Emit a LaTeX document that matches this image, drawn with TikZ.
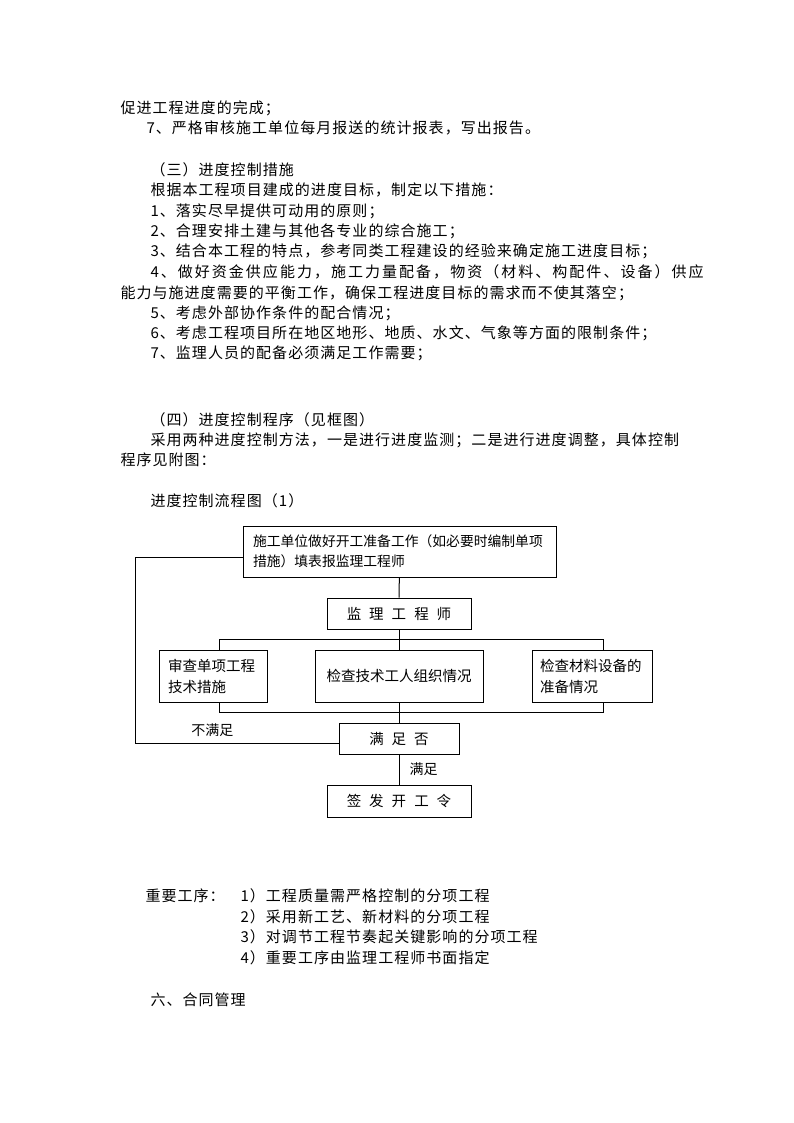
\documentclass[tikz,border=0pt]{standalone}
\usepackage{fontspec}
\setmainfont{Noto Sans CJK SC}
\newfontfamily\bodyfont[LetterSpace=7]{Noto Sans CJK SC}
\newfontfamily\widefont[LetterSpace=13.5]{Noto Sans CJK SC}
\newcommand{\kg}{\hspace{8pt}}

\begin{document}
\begin{tikzpicture}[x=1pt, y=-1pt, line width=1pt,
    txt/.style={anchor=west, inner sep=0pt, font=\bodyfont\fontsize{15}{20}\selectfont, text height=13.2pt, text depth=1.8pt},
    widetxt/.style={txt, font=\widefont\fontsize{15}{20}\selectfont},
    box/.style={draw, inner sep=0pt, font=\fontsize{14.5}{21}\selectfont},
    lbl/.style={inner sep=2pt, font=\fontsize{14}{16}\selectfont, text height=12.3pt, text depth=1.7pt}]
            \fill [white] (0,0) rectangle (794,1123);
            \node [txt] (t1) at (120,108) {促进工程进度的完成；};
            \node [txt] (t2) at (146,128) {7、严格审核施工单位每月报送的统计报表，写出报告。};
            \node [txt] (t3) at (150,170) {（三）进度控制措施};
            \node [txt] (t4) at (150,190) {根据本工程项目建成的进度目标，制定以下措施：};
            \node [txt] (t5) at (150,211) {1、落实尽早提供可动用的原则；};
            \node [txt] (t6) at (150,231) {2、合理安排土建与其他各专业的综合施工；};
            \node [txt] (t7) at (150,251) {3、结合本工程的特点，参考同类工程建设的经验来确定施工进度目标；};
            \node [widetxt] (t8) at (150,272) {4、做好资金供应能力，施工力量配备，物资（材料、构配件、设备）供应};
            \node [txt] (t9) at (120,293) {能力与施进度需要的平衡工作，确保工程进度目标的需求而不使其落空；};
            \node [txt] (t10) at (150,313) {5、考虑外部协作条件的配合情况；};
            \node [txt] (t11) at (150,333) {6、考虑工程项目所在地区地形、地质、水文、气象等方面的限制条件；};
            \node [txt] (t12) at (150,353) {7、监理人员的配备必须满足工作需要；};
            \node [txt] (t13) at (150,420) {（四）进度控制程序（见框图）};
            \node [txt] (t14) at (150,440) {采用两种进度控制方法，一是进行进度监测；二是进行进度调整，具体控制};
            \node [txt] (t15) at (120,460) {程序见附图：};
            \node [txt] (t16) at (150,501) {进度控制流程图（1）};
            \node [box, minimum width=313, minimum height=51, text width=293, align=left, font=\fontsize{13.8}{20}\selectfont] (prep) at (399.5,551.5) {施工单位做好开工准备工作（如必要时编制单项\\措施）填表报监理工程师};
            \node [box, minimum width=144, minimum height=31] (jl) at (399,613.5) {监\kg 理\kg 工\kg 程\kg 师};
            \node [box, minimum width=108, minimum height=52, text width=90, align=left] (sc) at (213,676) {审查单项工程\\技术措施};
            \node [box, minimum width=168, minimum height=52] (js) at (399,676) {检查技术工人组织情况};
            \node [box, minimum width=120, minimum height=52, text width=104, align=left] (cl) at (592,676) {检查材料设备的\\准备情况};
            \node [box, minimum width=120, minimum height=31] (mz) at (399,738.5) {满\kg 足\kg 否};
            \node [box, minimum width=144, minimum height=32] (qf) at (399,801) {签\kg 发\kg 开\kg 工\kg 令};
            \coordinate (bl) at (219,639);
            \coordinate (br) at (603,639);
            \coordinate (dl) at (219,712);
            \coordinate (dr) at (603,712);
            \coordinate (lt) at (135,557);
            \coordinate (lb) at (135,743);
            \draw (prep) -- (jl);
            \draw (jl) -- (js);
            \draw (sc.north -| bl) -- (bl) -- (br) -- (cl.north -| br);
            \draw (sc.south -| dl) -- (dl) -- (dr) -- (cl.south -| dr);
            \draw (js) -- (mz);
            \draw (mz) to node[lbl,midway,right=8pt]{满足} (qf);
            \draw (prep.west |- lt) -- (lt) -- (lb) to node[lbl,pos=0.38,above=3pt]{不满足} (mz.west |- lb);
            \node [txt] (t17) at (145,896) {重要工序：};
            \node [txt] (t18) at (240,896) {1）工程质量需严格控制的分项工程};
            \node [txt] (t19) at (240,917) {2）采用新工艺、新材料的分项工程};
            \node [txt] (t20) at (240,937) {3）对调节工程节奏起关键影响的分项工程};
            \node [txt] (t21) at (240,958) {4）重要工序由监理工程师书面指定};
            \node [txt] (t22) at (150,1000) {六、合同管理};
        \end{tikzpicture}
\end{document}
